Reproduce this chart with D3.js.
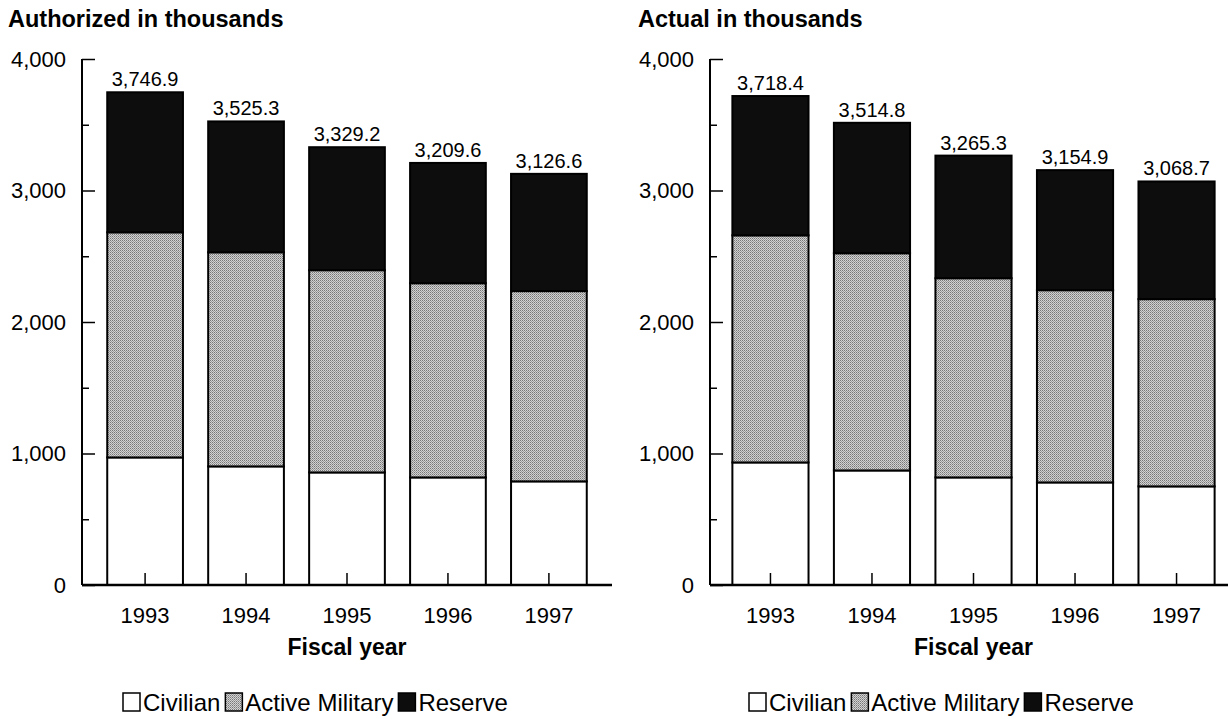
<!DOCTYPE html>
<html>
  <head>
    <meta charset="utf-8" />
    <title>DOD workforce, authorized and actual</title>
    <script src="https://d3js.org/d3.v7.min.js"></script>
    <style>
      body {
        margin: 0;
        background: #fff;
      }
      svg {
        font-family: "Liberation Sans", Arial, sans-serif;
      }
    </style>
  </head>
  <body>
    <svg id="chart" width="1228" height="719"></svg>
    <script>
      const years = ["1993", "1994", "1995", "1996", "1997"];
      const seriesNames = ["Civilian", "Active Military", "Reserve"];
      const yTicks = [0, 1000, 2000, 3000, 4000];
      const yMinorTicks = [500, 1500, 2500, 3500];

      // authorized, thousands
      const authCivilian = [970, 902, 856, 818, 788];
      const authActive = [1712, 1628, 1538, 1477, 1447];
      const authReserve = [1064.9, 995.3, 935.2, 914.6, 891.6];
      const authTotal = [3746.9, 3525.3, 3329.2, 3209.6, 3126.6];

      // actual, thousands
      const actCivilian = [932, 871, 818, 780, 750];
      const actActive = [1727, 1652, 1515, 1462, 1424];
      const actReserve = [1059.4, 991.8, 932.3, 912.9, 894.7];
      const actTotal = [3718.4, 3514.8, 3265.3, 3154.9, 3068.7];

      const svg = d3.select("#chart");
      const fmt = d3.format(",.1f");
      const tickFmt = d3.format(",");

      // speckled grey for active military
      const defs = svg.append("defs");
      const pat = defs
        .append("pattern")
        .attr("id", "speckle")
        .attr("width", 2)
        .attr("height", 2)
        .attr("patternUnits", "userSpaceOnUse");
      pat.append("rect").attr("width", 2).attr("height", 2).attr("fill", "#d2d2d2");
      pat.append("rect").attr("width", 1).attr("height", 1).attr("fill", "#777");
      pat.append("rect").attr("x", 1).attr("y", 1).attr("width", 1).attr("height", 1).attr("fill", "#9a9a9a");

      const fills = ["#fff", "url(#speckle)", "#0d0d0d"];

      function rows(civ, act, res) {
        return years.map((y, i) => ({
          year: y,
          Civilian: civ[i],
          "Active Military": act[i],
          Reserve: res[i]
        }));
      }

      function drawPanel(opts) {
        const g = svg.append("g");
        const y = d3.scaleLinear().domain([0, 4000]).range([585, 59]);
        const x = d3
          .scaleBand()
          .domain(years)
          .range([opts.x0, opts.x1])
          .padding(0.25);

        g.append("text")
          .attr("x", opts.titleX)
          .attr("y", 27)
          .attr("font-size", 23.5)
          .attr("font-weight", "bold")
          .text(opts.title);

        const stack = d3.stack().keys(seriesNames)(rows(opts.civ, opts.act, opts.res));

        stack.forEach((layer, li) => {
          g.append("g")
            .selectAll("rect")
            .data(layer)
            .join("rect")
            .attr("x", (d) => x(d.data.year))
            .attr("y", (d) => y(d[1]))
            .attr("width", x.bandwidth())
            .attr("height", (d) => y(d[0]) - y(d[1]))
            .attr("fill", fills[li])
            .attr("stroke", "#000")
            .attr("stroke-width", 2);
        });

        // total labels
        g.append("g")
          .selectAll("text")
          .data(years)
          .join("text")
          .attr("x", (d) => x(d) + x.bandwidth() / 2)
          .attr("y", (d, i) => y(opts.total[i]) - 6)
          .attr("text-anchor", "middle")
          .attr("font-size", 20)
          .text((d, i) => fmt(opts.total[i]));

        // y axis, ticks point inward
        const ya = g
          .append("g")
          .attr("transform", `translate(${opts.axisX},0)`)
          .call(d3.axisRight(y).tickValues(yTicks).tickSize(13).tickFormat(""));
        ya.select(".domain").remove();
        ya.selectAll("line").attr("stroke-width", 1.5);
        g.append("g")
          .attr("transform", `translate(${opts.axisX},0)`)
          .call(d3.axisRight(y).tickValues(yMinorTicks).tickSize(7).tickFormat(""))
          .call((s) => s.select(".domain").remove())
          .selectAll("line")
          .attr("stroke-width", 1.5);
        g.append("line")
          .attr("x1", opts.axisX)
          .attr("x2", opts.axisX)
          .attr("y1", y(4000))
          .attr("y2", y(0))
          .attr("stroke", "#000")
          .attr("stroke-width", 2);

        g.append("g")
          .selectAll("text")
          .data(yTicks)
          .join("text")
          .attr("x", opts.axisX - 16)
          .attr("y", (d) => y(d))
          .attr("dy", "0.36em")
          .attr("text-anchor", "end")
          .attr("font-size", 22)
          .text((d) => tickFmt(d));

        // x axis baseline and inward ticks
        g.append("line")
          .attr("x1", opts.axisX)
          .attr("x2", opts.baseEnd)
          .attr("y1", y(0))
          .attr("y2", y(0))
          .attr("stroke", "#000")
          .attr("stroke-width", 2.5);
        const xa = g
          .append("g")
          .attr("transform", `translate(0,${y(0)})`)
          .call(d3.axisTop(x).tickSize(12).tickFormat(""));
        xa.select(".domain").remove();
        xa.selectAll("line").attr("stroke-width", 1.5);

        g.append("g")
          .selectAll("text")
          .data(years)
          .join("text")
          .attr("x", (d) => x(d) + x.bandwidth() / 2)
          .attr("y", 623)
          .attr("text-anchor", "middle")
          .attr("font-size", 22)
          .text((d) => d);

        g.append("text")
          .attr("x", (opts.x0 + opts.x1) / 2)
          .attr("y", 655)
          .attr("text-anchor", "middle")
          .attr("font-size", 23)
          .attr("font-weight", "bold")
          .text("Fiscal year");

        // legend
        const lg = g.append("g").attr("transform", `translate(${opts.legendX},711)`);
        let cx = 0;
        seriesNames.forEach((name, i) => {
          lg.append("rect")
            .attr("x", cx + 1)
            .attr("y", -18)
            .attr("width", 17)
            .attr("height", 18)
            .attr("fill", fills[i])
            .attr("stroke", "#000")
            .attr("stroke-width", 1.5);
          const t = lg
            .append("text")
            .attr("x", cx + 21)
            .attr("y", 0)
            .attr("font-size", 24)
            .text(name);
          cx += 21 + t.node().getComputedTextLength() + 4;
        });
      }

      drawPanel({
        title: "Authorized in thousands",
        titleX: 8,
        axisX: 82,
        x0: 82,
        x1: 612,
        baseEnd: 612,
        legendX: 122,
        civ: authCivilian,
        act: authActive,
        res: authReserve,
        total: authTotal
      });

      drawPanel({
        title: "Actual in thousands",
        titleX: 638,
        axisX: 710,
        x0: 707,
        x1: 1240,
        baseEnd: 1228,
        legendX: 748,
        civ: actCivilian,
        act: actActive,
        res: actReserve,
        total: actTotal
      });
    </script>
  </body>
</html>
